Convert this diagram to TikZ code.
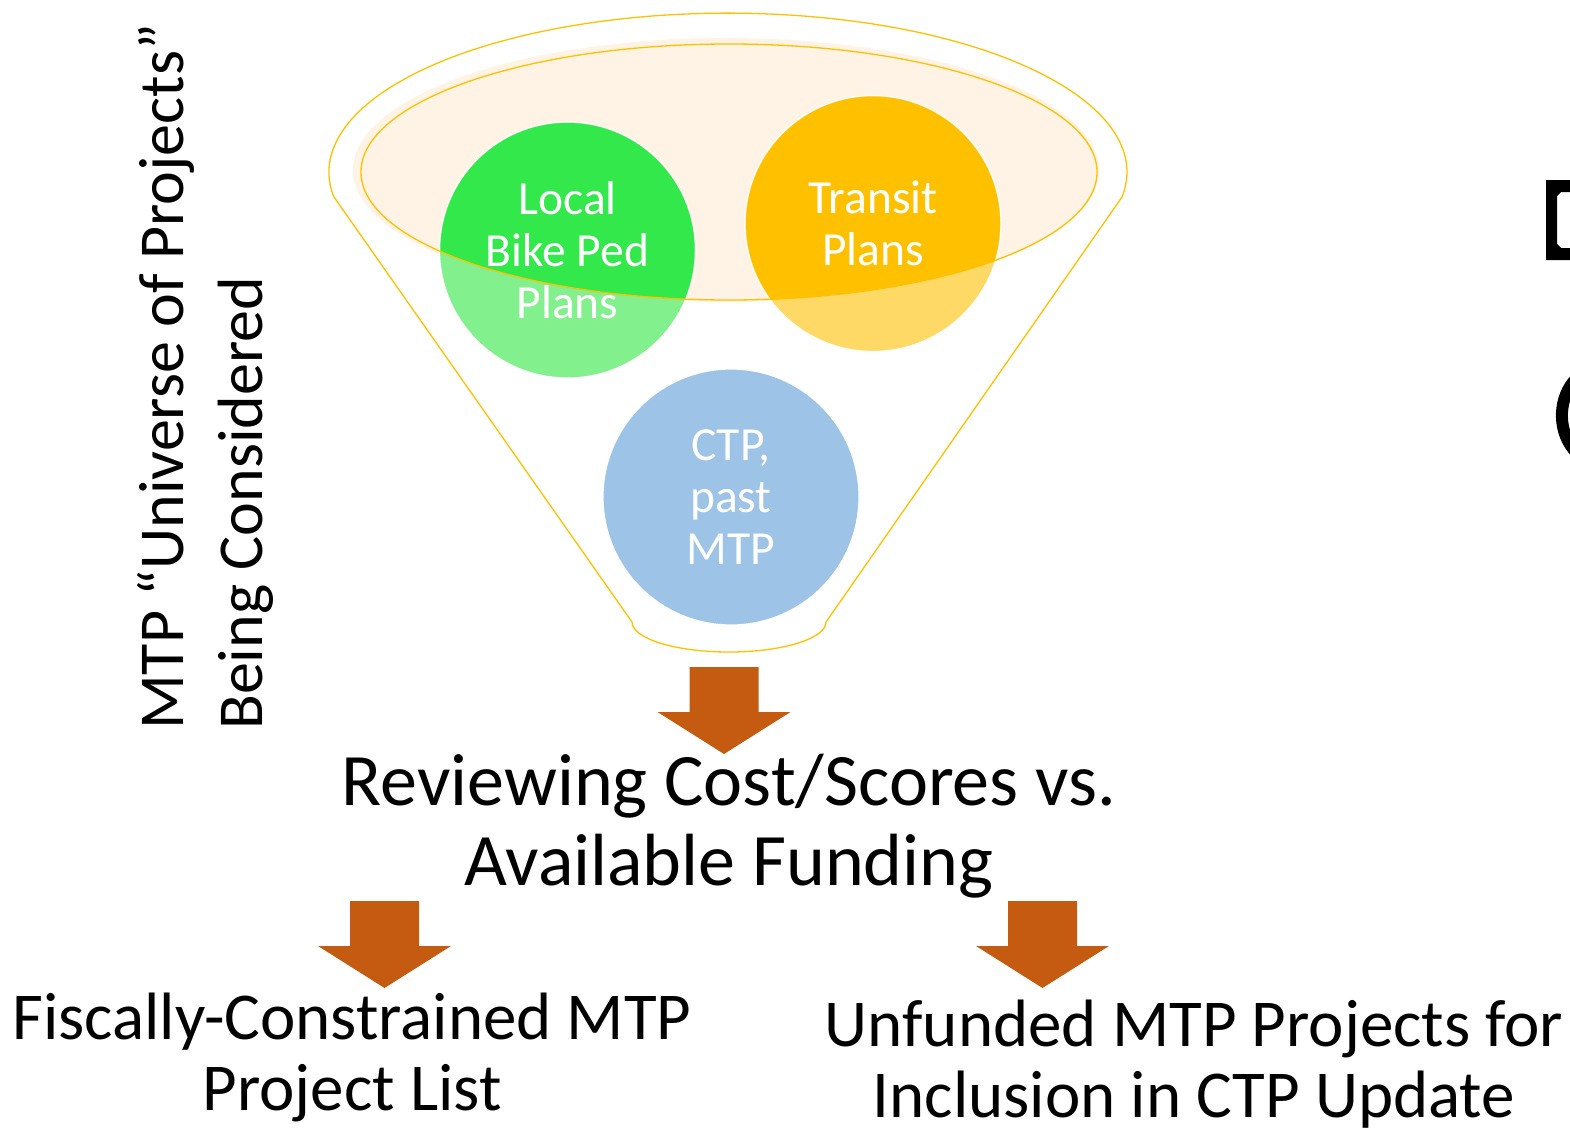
\documentclass[tikz,border=0pt]{standalone}
\usepackage{fontspec}
\setmainfont{Carlito}
\definecolor{funnelline}{HTML}{FFC000}
\definecolor{funnelfill}{HTML}{FEF3E4}
\definecolor{bikegreen}{HTML}{33E84A}
\definecolor{bikegreenlight}{HTML}{82F08C}
\definecolor{transitorange}{HTML}{FFC000}
\definecolor{transitorangelight}{HTML}{FFD966}
\definecolor{ctpblue}{HTML}{9DC3E6}
\definecolor{arrowbrown}{HTML}{C55A11}
\newcommand{\blockarrow}[1]{%
  \fill[arrowbrown, shift={(#1)}] (-34.5,0) -- (34.5,0) -- (34.5,45) -- (66.5,45)
    -- (0,87) -- (-66.5,45) -- (-34.5,45) -- cycle;}

\begin{document}
\begin{tikzpicture}[x=1pt, y=-1pt,
    planbubble/.style={shape=circle, minimum size=256pt, inner sep=0pt, draw=white, line width=1.2pt},
    plantext/.style={text=white, align=center, font=\fontsize{47.5}{52}\selectfont},
    bigtext/.style={align=center, font=\fontsize{74}{80}\selectfont},
    resulttext/.style={align=center, font=\fontsize{67}{71}\selectfont}]
  \useasboundingbox (0,0) rectangle (1570,1127);

  % funnel
  \fill[funnelfill] (726,170) ellipse [x radius=373, y radius=132];
  \draw[funnelline, line width=1.3pt] (334,197) -- (632,622)
    arc [start angle=180, end angle=0, x radius=97, y radius=30]
    -- (1122,197) arc [start angle=9, end angle=-189, x radius=399, y radius=159];

  % plans
  \node[planbubble, fill=bikegreenlight] (bikeped) at (567.5,250) {};
  \node[planbubble, fill=transitorangelight] (transit) at (873,223.5) {};
  \node[planbubble, fill=ctpblue] (ctp) at (731,497) {};
  \begin{scope}
    \clip (729,172) ellipse [x radius=368, y radius=128];
    \fill[bikegreen] (bikeped.center) circle (127);
    \fill[transitorange] (transit.center) circle (127);
  \end{scope}
  \draw[funnelline, line width=1.3pt] (729,172) ellipse [x radius=368, y radius=128];

  \node[plantext] (bikepedlabel) at (bikeped.center) {Local\\Bike Ped\\Plans};
  \node[plantext] (transitlabel) at (transit.center) {Transit\\Plans};
  \node[plantext] (ctplabel) at (ctp.center) {CTP,\\past\\MTP};

  % side label
  \node[rotate=90, anchor=base west, align=left, inner sep=0pt,
    font=\fontsize{64}{79}\selectfont] (universe) at (262,730)
    {MTP “Universe of Projects”\\Being Considered};

  % outcome
  \blockarrow{724,667}
  \node[bigtext, anchor=base, inner sep=0pt] (review) at (729,885)
    {Reviewing Cost/Scores vs.\\Available Funding};
  \blockarrow{384.5,901}
  \blockarrow{1042.5,901}
  \node[resulttext, anchor=base, inner sep=0pt] (fiscal) at (352,1110)
    {Fiscally-Constrained MTP\\Project List};
  \node[resulttext, anchor=base, inner sep=0pt] (unfunded) at (1194,1117)
    {Unfunded MTP Projects for\\Inclusion in CTP Update};

  % cut-off glyphs at the right edge
  \fill[black, even odd rule] (1546,180) rectangle (1580,260)
    (1561,192) -- (1580,192) -- (1580,248) -- (1561,248) -- (1557,244) -- (1557,196) -- cycle;
  \draw[black, line width=12pt] (1585,372) arc [start angle=-115, end angle=-245, x radius=40, y radius=48];
\end{tikzpicture}
\end{document}
